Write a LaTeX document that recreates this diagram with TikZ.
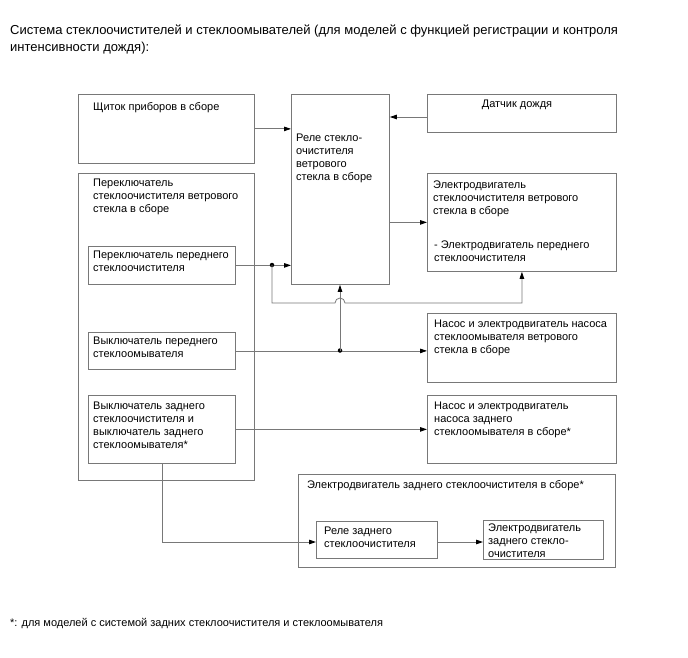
\documentclass[tikz,border=0pt]{standalone}
\usepackage{fontspec}
\setmainfont{Liberation Sans}
\usetikzlibrary{arrows.meta}
\definecolor{ln}{RGB}{120,120,120}
\newcommand\mybox[5]{\node[box, minimum width={(#4-#2)*1pt}, minimum height={(#5-#3)*1pt}] (#1) at (#2,#3) {};}
\begin{document}
\begin{tikzpicture}[x=1pt,y=-1pt,
 box/.style={draw=ln, line width=0.8pt, inner sep=0pt, anchor=north west},
 txt/.style={font=\fontsize{11}{13}\selectfont, align=left, inner sep=0pt, anchor=base west},
 ttl/.style={font=\fontsize{13}{17}\selectfont, align=left, inner sep=0pt, anchor=base west},
 wire/.style={draw=ln, line width=0.8pt},
 arr/.style={wire, -{Triangle[length=7pt,width=4.5pt,color=black]}},
 dot/.style={circle, fill=black, inner sep=0pt, minimum size=4.5pt}]
\useasboundingbox (0,0) rectangle (688,658);
\fill[white] (0,0) rectangle (688,658);

% base anchor of a multi-line node = baseline of its last line
\node[ttl] (title) at (10,51.5) {Система стеклоочистителей и стеклоомывателей (для моделей с функцией регистрации и контроля\\интенсивности дождя):};

\mybox{shch}{78}{94}{254}{163}
\mybox{rele}{291}{94}{389}{284}
\mybox{dat}{427}{94}{616}{132}
\mybox{perO}{78}{173}{254}{480}
\mybox{perek}{88}{246}{235}{284}
\mybox{motor}{427}{173}{616}{271}
\mybox{vyk1}{88}{332}{235}{369}
\mybox{nasos1}{427}{313}{616}{382}
\mybox{vyk2}{88}{395}{235}{463}
\mybox{nasos2}{427}{395}{616}{463}
\mybox{rearO}{298}{474}{615}{567}
\mybox{relez}{316}{521}{437}{558}
\mybox{motz}{483}{520}{603}{559}

\node[txt] (shch-t) at (93,111) {Щиток приборов в сборе};
\node[txt] (rele-t) at (296,180) {Реле стекло-\\очистителя\\ветрового\\стекла в сборе};
\node[txt, anchor=base] (dat-t) at (517,108) {Датчик дождя};
\node[txt] (perO-t) at (93,212) {Переключатель\\стеклоочистителя ветрового\\стекла в сборе};
\node[txt] (perek-t) at (93,271) {Переключатель переднего\\стеклоочистителя};
\node[txt] (motor-t) at (433,214) {Электродвигатель\\стеклоочистителя ветрового\\стекла в сборе};
\node[txt] (motor-t2) at (434,261) {- Электродвигатель переднего\\стеклоочистителя};
\node[txt] (vyk1-t) at (93,357) {Выключатель переднего\\стеклоомывателя};
\node[txt] (vyk2-t) at (93,448) {Выключатель заднего\\стеклоочистителя и\\выключатель заднего\\стеклоомывателя*};
\node[txt] (nasos1-t) at (434,353) {Насос и электродвигатель насоса\\стеклоомывателя ветрового\\стекла в сборе};
\node[txt] (nasos2-t) at (434,435) {Насос и электродвигатель\\насоса заднего\\стеклоомывателя в сборе*};
\node[txt] (rearO-t) at (307,488) {Электродвигатель заднего стеклоочистителя в сборе*};
\node[txt] (relez-t) at (324,547) {Реле заднего\\стеклоочистителя};
\node[txt] (motz-t) at (488,557) {Электродвигатель\\заднего стекло-\\очистителя};
\node[txt] (foot) at (10,626) {*: для моделей с системой задних стеклоочистителя и стеклоомывателя};

% connectors
\draw[arr] (shch.east) -- (shch.east -| rele.west);
\draw[arr] (dat.west |- 0,117) -- (rele.east |- 0,117);
\draw[arr] (rele.east |- motor.west) -- (motor.west);
\draw[arr] (perek.east) -- (perek.east -| rele.west);
\node[dot] (d1) at (272,265) {};
\coordinate (h1) at (335,303);
\coordinate (h2) at (345,303);
\draw[arr] (d1.center) -- (d1.center |- h1) -- (h1) arc[start angle=180, end angle=360, radius=5] -- (h2) -- (motor.south |- h2) -- (motor.south);
\draw[arr] (vyk1.east) -- (vyk1.east -| nasos1.west);
\node[dot] (d2) at (340,350.5) {};
\draw[arr] (d2.center) -- (d2.center |- rele.south);
\draw[arr] (vyk2.east) -- (vyk2.east -| nasos2.west);
\coordinate (c1) at (162,542);
\draw[arr] (vyk2.south -| c1) -- (c1) -- (c1 -| relez.west);
\draw[arr] (relez.east |- c1) -- (motz.west |- c1);
\end{tikzpicture}
\end{document}
